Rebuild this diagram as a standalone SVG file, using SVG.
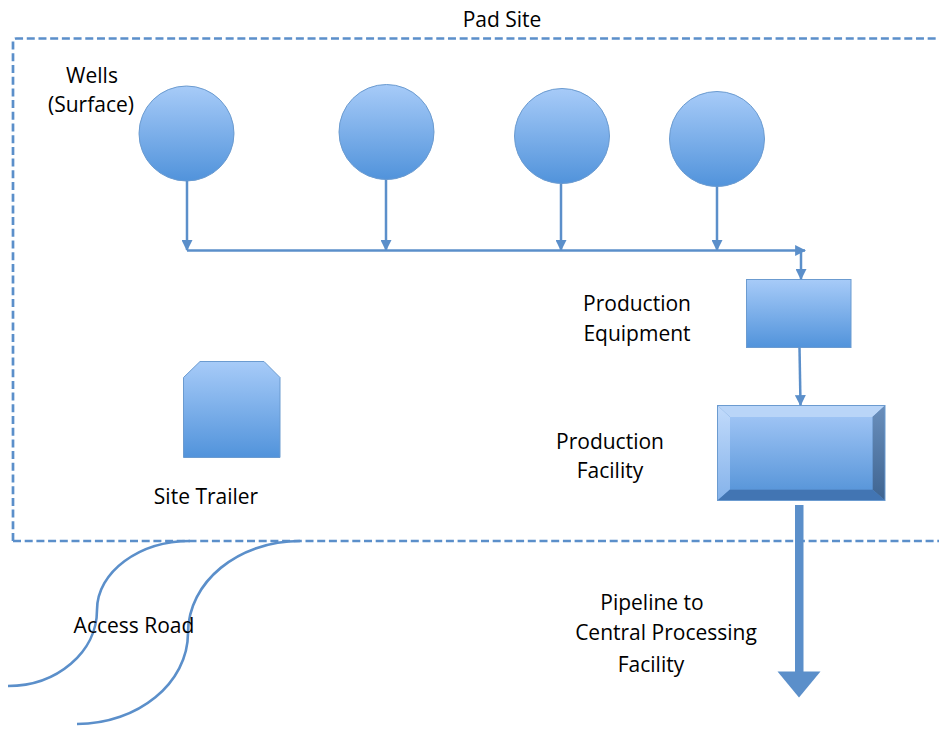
<svg xmlns="http://www.w3.org/2000/svg" width="939" height="729" viewBox="0 0 939 729">
  <defs>
    <linearGradient id="fillBlue" x1="0" y1="0" x2="0" y2="1">
      <stop offset="0" stop-color="#a7cbf8"/>
      <stop offset="1" stop-color="#5193db"/>
    </linearGradient>
    <linearGradient id="faceBlue" x1="0" y1="0" x2="0" y2="1">
      <stop offset="0" stop-color="#9dc3f4"/>
      <stop offset="1" stop-color="#5a97da"/>
    </linearGradient>
    <linearGradient id="rightBevel" x1="0" y1="0" x2="0" y2="1">
      <stop offset="0" stop-color="#6a8fbc"/>
      <stop offset="1" stop-color="#3e6491"/>
    </linearGradient>
    <linearGradient id="leftBevel" x1="0" y1="0" x2="0" y2="1">
      <stop offset="0" stop-color="#c2dbfb"/>
      <stop offset="1" stop-color="#84b2ea"/>
    </linearGradient>
    <marker id="head" viewBox="0 0 10 10" refX="9" refY="5" markerWidth="4.4" markerHeight="4.4" orient="auto" markerUnits="strokeWidth">
      <path d="M0,0 L10,5 L0,10 z" fill="#5b8fca"/>
    </marker>
    <style>
      .lbl { font-family: "Open Sans", "Liberation Sans", sans-serif; font-size: 21px; fill: #000; text-anchor: middle; }
      .line { fill: none; stroke: #5b8fca; stroke-width: 2.5; }
      .shape { stroke: #6b9bd0; stroke-width: 1; }
      .road { fill: none; stroke: #5b8fca; stroke-width: 2.6; }
    </style>
  </defs>

  <rect width="939" height="729" fill="#ffffff"/>

  <!-- pad site boundary -->
  <g id="pad-site">
    <path d="M13,541 L13,42 Q13,38.5 16.5,38.5 L950,38.5 M13,541 L950,541" fill="none" stroke="#5b8fca" stroke-width="2.7" stroke-dasharray="8 3.7"/>
    <text class="lbl" x="502" y="27">Pad Site</text>
  </g>

  <!-- access road -->
  <g id="access-road">
    <path class="road" d="M8,686 C57,686 97,652 97,610 C97,572 139,541 190,541"/>
    <path class="road" d="M77,724 C138,724 188,683 188,633 C188,582 238,541 300,541"/>
    <text class="lbl" x="134" y="633">Access Road</text>
  </g>

  <!-- wells -->
  <g id="wells">
    <text class="lbl" x="92" y="83">Wells</text>
    <text class="lbl" x="91" y="112">(Surface)</text>
    <circle class="shape" cx="186.5" cy="133.5" r="47.5" fill="url(#fillBlue)"/>
    <circle class="shape" cx="386.5" cy="132" r="47.5" fill="url(#fillBlue)"/>
    <circle class="shape" cx="562" cy="136" r="47.5" fill="url(#fillBlue)"/>
    <circle class="shape" cx="717" cy="139" r="47.5" fill="url(#fillBlue)"/>
  </g>

  <!-- site trailer -->
  <g id="site-trailer">
    <path class="shape" d="M183.5,377.5 L200,361.5 L264,361.5 L280,377.5 L280,457.5 L183.5,457.5 z" fill="url(#fillBlue)"/>
    <text class="lbl" x="206" y="504">Site Trailer</text>
  </g>

  <!-- production equipment -->
  <g id="production-equipment">
    <rect class="shape" x="746.5" y="279.5" width="104.5" height="68" fill="url(#fillBlue)"/>
    <text class="lbl" x="637" y="311">Production</text>
    <text class="lbl" x="637" y="341">Equipment</text>
  </g>

  <!-- production facility -->
  <g id="production-facility">
    <rect x="717.5" y="405.5" width="167.5" height="95" fill="#5b8fca"/>
    <path d="M717.5,405.5 L885,405.5 L872.5,417 L730,417 z" fill="#b9d5f8"/>
    <path d="M717.5,405.5 L730,417 L730,489.5 L717.5,500.5 z" fill="url(#leftBevel)"/>
    <path d="M885,405.5 L885,500.5 L872.5,489.5 L872.5,417 z" fill="url(#rightBevel)"/>
    <path d="M717.5,500.5 L730,489.5 L872.5,489.5 L885,500.5 z" fill="#4275b3"/>
    <rect x="730" y="417" width="142.5" height="72.5" fill="url(#faceBlue)"/>
    <rect x="717.5" y="405.5" width="167.5" height="95" fill="none" stroke="#6b9bd0" stroke-width="1"/>
    <text class="lbl" x="610" y="449">Production</text>
    <text class="lbl" x="610" y="478">Facility</text>
  </g>

  <!-- pipeline label -->
  <g id="pipeline">
    <text class="lbl" x="652" y="610">Pipeline to</text>
    <text class="lbl" x="666" y="640">Central Processing</text>
    <text class="lbl" x="651" y="672">Facility</text>
  </g>

  <!-- connectors -->
  <g id="connectors">
    <line class="line" x1="187" y1="181" x2="187" y2="250" marker-end="url(#head)"/>
    <line class="line" x1="386" y1="179.5" x2="386" y2="250" marker-end="url(#head)"/>
    <line class="line" x1="561" y1="183.5" x2="561" y2="250" marker-end="url(#head)"/>
    <line class="line" x1="717" y1="186.5" x2="717" y2="250" marker-end="url(#head)"/>
    <line class="line" x1="187" y1="250.5" x2="805" y2="250.5" marker-end="url(#head)"/>
    <line class="line" x1="801" y1="250.5" x2="801" y2="279" marker-end="url(#head)"/>
    <line class="line" x1="799.5" y1="347.5" x2="800.5" y2="405" marker-end="url(#head)"/>
    <!-- pipeline outflow -->
    <rect x="795" y="505" width="8.5" height="168" fill="#5b8fca"/>
    <path d="M777.5,671.5 L820.5,671.5 L799,697.5 z" fill="#5b8fca"/>
  </g>
</svg>
